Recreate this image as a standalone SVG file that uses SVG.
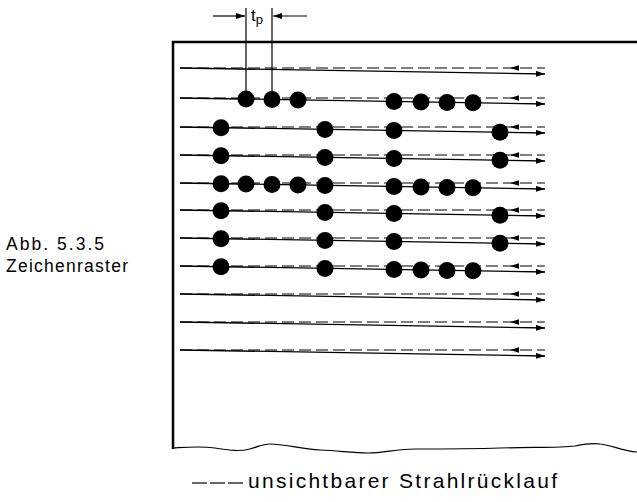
<svg xmlns="http://www.w3.org/2000/svg" xmlns:xlink="http://www.w3.org/1999/xlink" width="637" height="502" viewBox="0 0 637 502">
<style>
.frame{fill:none;stroke:#000;stroke-width:2.5}
.trace{fill:none;stroke:#000;stroke-width:1.3}
.retrace{fill:none;stroke:#000;stroke-width:1.2;stroke-dasharray:12 5}
.dot{fill:#000}
.thin{fill:none;stroke:#000;stroke-width:1.2}
.lbl{font-family:"Liberation Sans",Arial,sans-serif;fill:#000}
</style>
<defs>
<marker id="arr" markerUnits="userSpaceOnUse" markerWidth="10" markerHeight="6" refX="9" refY="3" orient="auto">
<path d="M0,0 L9,3 L0,6 Z" fill="#000"/>
</marker>
<path id="lhead" d="M0,0 L9,-2.8 L9,2.8 Z" fill="#000"/>
<g id="rasterline">
<line class="retrace" x1="180" y1="0" x2="545" y2="0"/>
<use xlink:href="#lhead" x="510" y="0"/>
<line class="trace" x1="180" y1="0" x2="545" y2="6" marker-end="url(#arr)"/>
</g>
</defs>

<g id="frame">
<line class="frame" x1="172" y1="42" x2="637" y2="42"/>
<line class="frame" x1="173" y1="41" x2="173" y2="449"/>
<path class="thin" stroke-width="1.6" d="M173,448 C190,447 200,446 215,448 C228,450 238,452 250,449 C258,447 262,444 270,444 C285,444 300,449 320,450 C340,451 355,453 368,453 C385,453 395,449 415,449 C440,449 470,449 500,448 C530,447 560,448 575,446 C585,444 592,443 600,444 C612,445 622,451 637,452"/>
</g>

<g id="connectors">
<use xlink:href="#rasterline" y="68"/>
<use xlink:href="#rasterline" y="98"/>
<use xlink:href="#rasterline" y="127"/>
<use xlink:href="#rasterline" y="155"/>
<use xlink:href="#rasterline" y="183"/>
<use xlink:href="#rasterline" y="210"/>
<use xlink:href="#rasterline" y="238"/>
<use xlink:href="#rasterline" y="266"/>
<use xlink:href="#rasterline" y="294"/>
<use xlink:href="#rasterline" y="322"/>
<use xlink:href="#rasterline" y="350"/>
</g>

<g id="tp-marker">
<line class="thin" x1="246" y1="8" x2="246" y2="98"/>
<line class="thin" x1="272" y1="8" x2="272" y2="98"/>
<line class="thin" x1="213" y1="16" x2="245" y2="16" marker-end="url(#arr)"/>
<line class="thin" x1="307" y1="16" x2="273" y2="16" marker-end="url(#arr)"/>
<text class="lbl" x="251" y="21" font-size="17">t<tspan font-size="13" dy="3">p</tspan></text>
</g>

<g id="dots-row2" transform="translate(0,98)">
<circle class="dot" cx="246" cy="1.1" r="8.5"/><circle class="dot" cx="272" cy="1.5" r="8.5"/><circle class="dot" cx="298" cy="1.9" r="8.5"/>
<circle class="dot" cx="394" cy="3.5" r="8.5"/><circle class="dot" cx="421" cy="4" r="8.5"/><circle class="dot" cx="447" cy="4.4" r="8.5"/><circle class="dot" cx="473" cy="4.8" r="8.5"/>
</g>
<g id="dots-row3" transform="translate(0,127)">
<circle class="dot" cx="221" cy="0.7" r="8.5"/><circle class="dot" cx="325" cy="2.4" r="8.5"/><circle class="dot" cx="394" cy="3.5" r="8.5"/><circle class="dot" cx="500" cy="5.3" r="8.5"/>
</g>
<g id="dots-row4" transform="translate(0,155)">
<circle class="dot" cx="221" cy="0.7" r="8.5"/><circle class="dot" cx="325" cy="2.4" r="8.5"/><circle class="dot" cx="394" cy="3.5" r="8.5"/><circle class="dot" cx="500" cy="5.3" r="8.5"/>
</g>
<g id="dots-row5" transform="translate(0,183)">
<circle class="dot" cx="221" cy="0.7" r="8.5"/><circle class="dot" cx="246" cy="1.1" r="8.5"/><circle class="dot" cx="272" cy="1.5" r="8.5"/><circle class="dot" cx="298" cy="1.9" r="8.5"/><circle class="dot" cx="325" cy="2.4" r="8.5"/>
<circle class="dot" cx="394" cy="3.5" r="8.5"/><circle class="dot" cx="421" cy="4" r="8.5"/><circle class="dot" cx="447" cy="4.4" r="8.5"/><circle class="dot" cx="473" cy="4.8" r="8.5"/>
</g>
<g id="dots-row6" transform="translate(0,210)">
<circle class="dot" cx="221" cy="0.7" r="8.5"/><circle class="dot" cx="325" cy="2.4" r="8.5"/><circle class="dot" cx="394" cy="3.5" r="8.5"/><circle class="dot" cx="500" cy="5.3" r="8.5"/>
</g>
<g id="dots-row7" transform="translate(0,238)">
<circle class="dot" cx="221" cy="0.7" r="8.5"/><circle class="dot" cx="325" cy="2.4" r="8.5"/><circle class="dot" cx="394" cy="3.5" r="8.5"/><circle class="dot" cx="500" cy="5.3" r="8.5"/>
</g>
<g id="dots-row8" transform="translate(0,266)">
<circle class="dot" cx="221" cy="0.7" r="8.5"/><circle class="dot" cx="325" cy="2.4" r="8.5"/>
<circle class="dot" cx="394" cy="3.5" r="8.5"/><circle class="dot" cx="421" cy="4" r="8.5"/><circle class="dot" cx="447" cy="4.4" r="8.5"/><circle class="dot" cx="473" cy="4.8" r="8.5"/>
</g>

<g id="caption">
<text class="lbl" x="6" y="250" font-size="17.5" textLength="98" lengthAdjust="spacing">Abb. 5.3.5</text>
<text class="lbl" x="6" y="272" font-size="17.5" textLength="122" lengthAdjust="spacing">Zeichenraster</text>
</g>

<g id="legend">
<line class="thin" stroke-width="1.5" x1="192" y1="483" x2="207" y2="483"/>
<line class="thin" stroke-width="1.5" x1="210" y1="483" x2="225" y2="483"/>
<line class="thin" stroke-width="1.5" x1="228" y1="483" x2="243" y2="483"/>
<text class="lbl" x="248" y="488" font-size="21" textLength="309" lengthAdjust="spacing">unsichtbarer Strahlrücklauf</text>
</g>
</svg>
